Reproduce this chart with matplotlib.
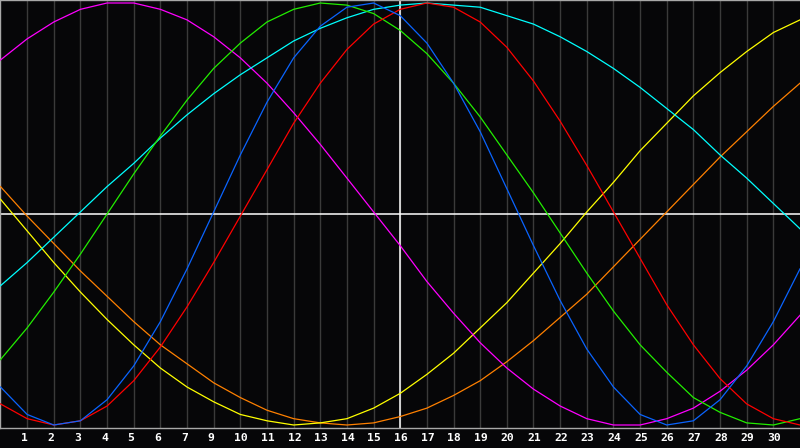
import matplotlib
import matplotlib.pyplot as plt

matplotlib.use('Agg')

# day index 0..30 along the chart (gridlines at 1..29)
days = list(range(31))

# values, -1 .. 1
red = [-0.90, -0.97, -1.00, -0.98, -0.91, -0.79, -0.63, -0.44, -0.23, -0.01, 0.21,
       0.43, 0.62, 0.78, 0.90, 0.97, 1.00, 0.98, 0.91, 0.79, 0.63, 0.44, 0.23, 0.01,
       -0.21, -0.43, -0.62, -0.78, -0.90, -0.97, -1.00]
blue = [-0.82, -0.95, -1.00, -0.98, -0.88, -0.72, -0.51, -0.26, 0.01, 0.28, 0.53,
        0.74, 0.89, 0.98, 1.00, 0.94, 0.81, 0.62, 0.39, 0.12, -0.15, -0.41, -0.64,
        -0.82, -0.95, -1.00, -0.98, -0.88, -0.72, -0.51, -0.26]
green = [-0.69, -0.54, -0.37, -0.19, 0.00, 0.19, 0.37, 0.54, 0.69, 0.81, 0.91,
         0.97, 1.00, 0.99, 0.95, 0.87, 0.76, 0.62, 0.46, 0.28, 0.10, -0.09, -0.28,
         -0.46, -0.62, -0.75, -0.87, -0.94, -0.99, -1.00, -0.97]
cyan = [-0.34, -0.23, -0.11, 0.01, 0.13, 0.24, 0.36, 0.47, 0.57, 0.66, 0.74,
        0.82, 0.88, 0.93, 0.97, 0.99, 1.00, 0.99, 0.98, 0.94, 0.90, 0.84, 0.77,
        0.69, 0.60, 0.50, 0.40, 0.28, 0.17, 0.05, -0.07]
magenta = [0.73, 0.83, 0.91, 0.97, 1.00, 1.00, 0.97, 0.92, 0.84, 0.74, 0.62,
           0.48, 0.33, 0.17, 0.01, -0.15, -0.32, -0.47, -0.61, -0.73, -0.83,
           -0.91, -0.97, -1.00, -1.00, -0.97, -0.92, -0.84, -0.74, -0.62, -0.48]
yellow = [0.07, -0.08, -0.23, -0.37, -0.50, -0.62, -0.73, -0.82, -0.89, -0.95,
          -0.98, -1.00, -0.99, -0.97, -0.92, -0.85, -0.76, -0.66, -0.54, -0.42,
          -0.28, -0.14, 0.01, 0.15, 0.30, 0.43, 0.56, 0.67, 0.77, 0.86, 0.92]
orange = [0.13, -0.01, -0.14, -0.27, -0.39, -0.51, -0.62, -0.71, -0.80, -0.87,
          -0.93, -0.97, -0.99, -1.00, -0.99, -0.96, -0.92, -0.86, -0.79, -0.70,
          -0.60, -0.49, -0.38, -0.25, -0.12, 0.01, 0.14, 0.27, 0.39, 0.51, 0.62]

tick_pos = list(range(1, 30))
tick_labels = ['1', '2', '3', '4', '5', '6', '7', '9', '10', '11', '12', '13',
               '14', '15', '16', '17', '18', '19', '20', '21', '22', '23', '24',
               '25', '26', '27', '28', '29', '30']
today = 15

bg = '#060608'
fig = plt.figure(figsize=(8, 4.48), dpi=100, facecolor=bg)
ax = fig.add_axes([0.0006, 20 / 448, 0.9994, 428 / 448], facecolor=bg)

for k in tick_pos:
    ax.axvline(k, color='#3a3a3a', lw=1, zorder=1)
ax.axhline(0, color='white', lw=1.1, zorder=2)
ax.axvline(today, color='white', lw=1.1, zorder=2)

series = [
    (orange, '#ff8000'),
    (yellow, '#ffff00'),
    (magenta, '#ff00ff'),
    (cyan, '#00ffff'),
    (green, '#22ee00'),
    (red, '#ff0000'),
    (blue, '#0a64ff'),
]
for vals, col in series:
    ax.plot(days, vals, color=col, lw=0.9, zorder=3)

ax.set_xlim(0, 30)
ax.set_ylim(-1.0142, 1.0142)
ax.set_xticks([])
ax.set_yticks([])
for s in ax.spines.values():
    s.set_color('#a8a8a8')
    s.set_linewidth(1)
ax.spines['right'].set_visible(False)

for k, lab in zip(tick_pos, tick_labels):
    ax.text(k - 0.23, -0.0245, lab, transform=ax.get_xaxis_transform(),
            ha='left', va='center', color='white', fontsize=8.2,
            fontweight='bold', family='DejaVu Sans Mono')

fig.savefig('out.png', dpi=100, facecolor=bg)
plt.close(fig)
